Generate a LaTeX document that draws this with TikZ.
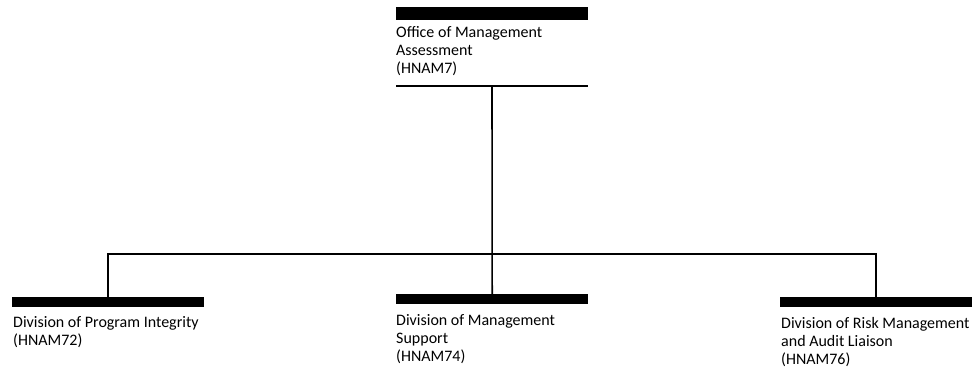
\documentclass[tikz,border=0pt]{standalone}
\usepackage{fontspec}
\setmainfont{Carlito}
\begin{document}
\begin{tikzpicture}[x=1pt,y=-1pt,
  bar/.style={fill=black,draw=none,inner sep=0pt,minimum width=192pt,anchor=north west},
  unit/.style={anchor=base west,inner sep=0pt,align=left,font=\fontsize{16}{18}\selectfont},
  conn/.style={draw=black,line width=1.6pt}]
\useasboundingbox (0,0) rectangle (976,372);
% top unit
\node[bar,minimum height=13pt] (topbar) at (396,7) {};
\node[unit] (toptext) at (396,73) {Office of Management\\Assessment\\(HNAM7)};
\coordinate (topl) at (396,86);
\coordinate (topr) at (588,86);
\coordinate (topline) at (492,86);
\draw[conn] (topl) -- (topr);
% bottom units
\node[bar,minimum height=10pt] (leftbar) at (12,297) {};
\node[unit] (lefttext) at (13,345) {Division of Program Integrity\\(HNAM72)};
\node[bar,minimum height=10pt] (midbar) at (396,294) {};
\node[unit] (midtext) at (396,361) {Division of Management\\Support\\(HNAM74)};
\node[bar,minimum height=10pt] (rightbar) at (780,297) {};
\node[unit] (righttext) at (781,364) {Division of Risk Management\\and Audit Liaison\\(HNAM76)};
% connectors
\coordinate (hub) at (492,254);
\draw[conn] (topline) -- (midbar.north);
\draw[conn] (leftbar.north) |- (hub) -| (rightbar.north);
\end{tikzpicture}
\end{document}
